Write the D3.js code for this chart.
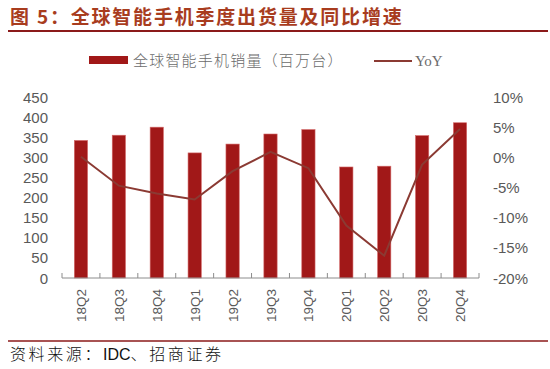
<!DOCTYPE html>
<html>
<head>
<meta charset="utf-8">
<script src="https://cdn.jsdelivr.net/npm/d3@7"></script>
<style>
  body { margin: 0; background: #fff; }
  svg { display: block; }
</style>
</head>
<body>
<svg id="chart" width="550" height="369"></svg>
<script>
// quarters on the x axis
const quarters = ['18Q2', '18Q3', '18Q4', '19Q1', '19Q2', '19Q3', '19Q4', '20Q1', '20Q2', '20Q3', '20Q4'];
// global smartphone shipments, millions
const shipments = [342, 355, 375, 311, 333, 358, 369, 276, 278, 354, 386];
// year over year growth, %
const yoy = [0.1, -4.7, -6.0, -7.0, -2.3, 0.9, -1.8, -11.3, -16.3, -1.2, 4.7];
const leftTicks = [0, 50, 100, 150, 200, 250, 300, 350, 400, 450];
const rightTicks = [-20, -15, -10, -5, 0, 5, 10];

const svg = d3.select('#chart');
const margin = {top: 97, left: 62, right: 71, bottom: 91};
const width = 550, height = 369;

const x = d3.scaleBand().domain(quarters).range([margin.left, width - margin.right]).paddingInner(0.65).paddingOuter(0.325);
const xb = d3.scaleBand().domain(quarters).range([margin.left, width - margin.right]);
const yL = d3.scaleLinear().domain([0, 450]).range([height - margin.bottom, margin.top]);
const yR = d3.scaleLinear().domain([-20, 10]).range([height - margin.bottom, margin.top]);

const sans = '"Liberation Sans", Arial, sans-serif';
const cjk = '"Noto Sans CJK SC", sans-serif';

// title
svg.append('text')
	.attr('x', 10).attr('y', 24)
	.attr('fill', '#a83c1e')
	.attr('font-family', cjk)
	.attr('font-weight', 700)
	.attr('font-size', 19)
	.attr('letter-spacing', 1.8)
	.text('图 5：全球智能手机季度出货量及同比增速');

svg.append('line')
	.attr('x1', 8).attr('x2', 548).attr('y1', 31).attr('y2', 31)
	.attr('stroke', '#8b1a1a').attr('stroke-width', 2);

// legend
svg.append('rect')
	.attr('x', 89).attr('y', 56).attr('width', 39).attr('height', 8)
	.attr('fill', '#a11818');
svg.append('text')
	.attr('x', 133).attr('y', 66)
	.attr('fill', '#6b6b6b')
	.attr('font-family', cjk)
	.attr('font-weight', 300)
	.attr('font-size', 15)
	.attr('letter-spacing', 1.2)
	.text('全球智能手机销量（百万台）');
svg.append('line')
	.attr('x1', 374).attr('x2', 412).attr('y1', 61).attr('y2', 61)
	.attr('stroke', '#8b3a33').attr('stroke-width', 2);
svg.append('text')
	.attr('x', 415).attr('y', 66)
	.attr('fill', '#6b6b6b')
	.attr('font-family', '"Liberation Serif", serif')
	.attr('font-size', 15)
	.text('YoY');

// bars
svg.append('g')
	.selectAll('rect')
	.data(shipments)
	.join('rect')
	.attr('x', (d, i) => x(quarters[i]))
	.attr('y', d => yL(d))
	.attr('width', x.bandwidth())
	.attr('height', d => yL(0) - yL(d))
	.attr('fill', '#a11818')
	.attr('stroke', '#d46a6a')
	.attr('stroke-width', 0.6);

// yoy line
svg.append('path')
	.datum(yoy)
	.attr('fill', 'none')
	.attr('stroke', '#8b3a33')
	.attr('stroke-width', 2)
	.attr('d', d3.line()
		.x((d, i) => xb(quarters[i]) + xb.bandwidth() / 2)
		.y(d => yR(d)));

// x axis with inward ticks at band edges
const axisY = yL(0);
svg.append('line')
	.attr('x1', margin.left).attr('x2', width - margin.right)
	.attr('y1', axisY).attr('y2', axisY)
	.attr('stroke', '#8c8c8c').attr('stroke-width', 1);
const edges = quarters.map(q => xb(q)).concat([width - margin.right]);
svg.append('g')
	.selectAll('line')
	.data(edges)
	.join('line')
	.attr('x1', d => d).attr('x2', d => d)
	.attr('y1', axisY).attr('y2', axisY - 5)
	.attr('stroke', '#8c8c8c');

svg.append('g')
	.selectAll('text')
	.data(quarters)
	.join('text')
	.attr('transform', d => 'translate(' + (xb(d) + xb.bandwidth() / 2 + 5) + ',' + 289 + ') rotate(-90)')
	.attr('text-anchor', 'end')
	.attr('fill', '#595959')
	.attr('font-family', sans)
	.attr('font-size', 13.5)
	.text(d => d);

// left axis labels
svg.append('g')
	.selectAll('text')
	.data(leftTicks)
	.join('text')
	.attr('x', 48)
	.attr('y', d => yL(d) + 5.5)
	.attr('text-anchor', 'end')
	.attr('fill', '#595959')
	.attr('font-family', sans)
	.attr('font-size', 15)
	.text(d => d);

// right axis labels
svg.append('g')
	.selectAll('text')
	.data(rightTicks)
	.join('text')
	.attr('x', 493)
	.attr('y', d => yR(d) + 5.5)
	.attr('fill', '#595959')
	.attr('font-family', sans)
	.attr('font-size', 15)
	.text(d => d + '%');

// source
svg.append('line')
	.attr('x1', 8).attr('x2', 548).attr('y1', 341).attr('y2', 341)
	.attr('stroke', '#8b1a1a').attr('stroke-width', 1.5);
const src = svg.append('text')
	.attr('x', 10).attr('y', 360)
	.attr('fill', '#111')
	.attr('font-family', '"Liberation Sans", "Noto Sans CJK SC", sans-serif')
	.attr('font-weight', 300)
	.attr('font-size', 16);
src.append('tspan').attr('letter-spacing', 2.6).text('资料来源：');
src.append('tspan').text('IDC');
src.append('tspan').attr('letter-spacing', 2.6).text('、招商证券');
</script>
</body>
</html>
